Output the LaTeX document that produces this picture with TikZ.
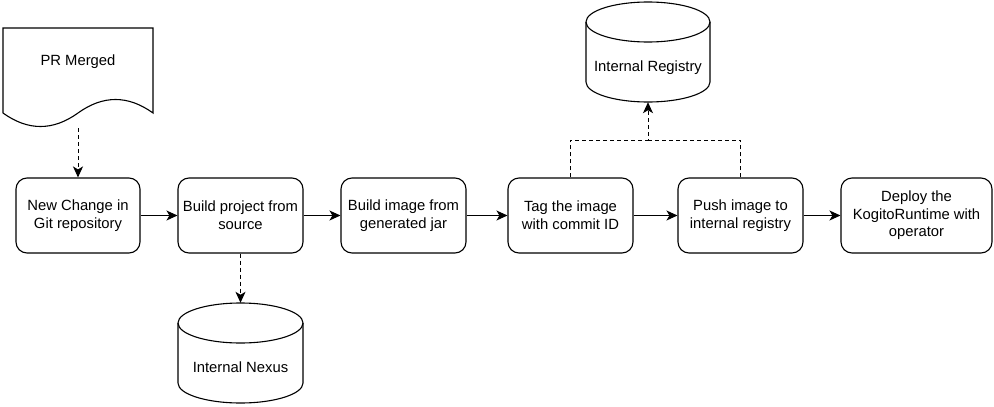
\documentclass[tikz,border=0pt]{standalone}
\usepackage{fontspec}
\setmainfont{Liberation Sans}
\usetikzlibrary{arrows.meta,calc}
\newcommand{\mycyl}[5]{% x1 x2 top bottom dy
  \draw[shapeline,fill=white]
    (#1,#3+#5)
    .. controls (#1,#3+#5-0.5523*#5) and ({(#1+#2)/2-0.5523*(#2-#1)/2},#3) .. ({(#1+#2)/2},#3)
    .. controls ({(#1+#2)/2+0.5523*(#2-#1)/2},#3) and (#2,#3+#5-0.5523*#5) .. (#2,#3+#5)
    -- (#2,#4-#5)
    .. controls (#2,#4-#5+0.5523*#5) and ({(#1+#2)/2+0.5523*(#2-#1)/2},#4) .. ({(#1+#2)/2},#4)
    .. controls ({(#1+#2)/2-0.5523*(#2-#1)/2},#4) and (#1,#4-#5+0.5523*#5) .. (#1,#4-#5)
    -- cycle;
  \draw[shapeline]
    (#1,#3+#5)
    .. controls (#1,#3+#5+0.5523*#5) and ({(#1+#2)/2-0.5523*(#2-#1)/2},#3+2*#5) .. ({(#1+#2)/2},#3+2*#5)
    .. controls ({(#1+#2)/2+0.5523*(#2-#1)/2},#3+2*#5) and (#2,#3+#5+0.5523*#5) .. (#2,#3+#5);
}
\begin{document}
\begin{tikzpicture}[x=1pt,y=-1pt,
  shapeline/.style={line width=1.1pt,draw=black},
  stepbox/.style={draw=black,line width=1.1pt,rounded corners=11pt,fill=white,
    minimum height=75pt,inner sep=2pt,align=center,
    font=\fontsize{14.8pt}{17.6pt}\selectfont},
  lbl/.style={inner sep=0pt,align=center,font=\fontsize{14.8pt}{17.6pt}\selectfont},
  ghost/.style={draw=none,inner sep=0pt},
  flow/.style={line width=1.1pt,-{Stealth[length=11pt,width=10pt,inset=3pt]}},
  dflow/.style={line width=1pt,dash pattern=on 4pt off 3pt},
]
\useasboundingbox (0,0) rectangle (994,407);

% PR Merged document shape
\draw[shapeline,fill=white] (3,28) -- (153,28) -- (153,113)
  .. controls (128,95) and (103,95) .. (78,113)
  .. controls (53,131) and (28,131) .. (3,113) -- cycle;
\node[lbl] (pr) at (78,62) {PR Merged};
\coordinate (prb) at (78,128);

% Process boxes
\node[stepbox,minimum width=124pt] (b1) at (78,215.5) {New Change in\\Git repository};
\node[stepbox,minimum width=125pt] (b2) at (240.5,215.5) {Build project from\\source};
\node[stepbox,minimum width=125pt] (b3) at (403.5,215.5) {Build image from\\generated jar};
\node[stepbox,minimum width=125pt] (b4) at (570.5,215.5) {Tag the image\\with commit ID};
\node[stepbox,minimum width=125pt] (b5) at (740.5,215.5) {Push image to\\internal registry};
\node[stepbox,minimum width=151pt] (b6) at (916.5,215.5) {Deploy the\\KogitoRuntime with\\operator};

% Cylinders
\mycyl{586}{710}{2}{102}{20}
\node[ghost,minimum width=124pt,minimum height=100pt] (reg) at (648,52) {};
\node[lbl] (regt) at (648,68) {Internal Registry};

\mycyl{178}{303}{303}{403}{20}
\node[ghost,minimum width=125pt,minimum height=100pt] (nex) at (240.5,353) {};
\node[lbl] (next) at (240.5,367) {Internal Nexus};

% Connectors
\draw[flow] (b1.east) -- (b2.west);
\draw[flow] (b2.east) -- (b3.west);
\draw[flow] (b3.east) -- (b4.west);
\draw[flow] (b4.east) -- (b5.west);
\draw[flow] (b5.east) -- (b6.west);

\draw[flow,dflow] (prb) -- (b1.north);
\draw[flow,dflow] (b2.south) -- (nex.north);

\coordinate (hub) at (648,140);
\draw[dflow] (b5.north) |- (hub);
\draw[flow,dflow] (b4.north) |- (hub) -- (reg.south);
\end{tikzpicture}
\end{document}
